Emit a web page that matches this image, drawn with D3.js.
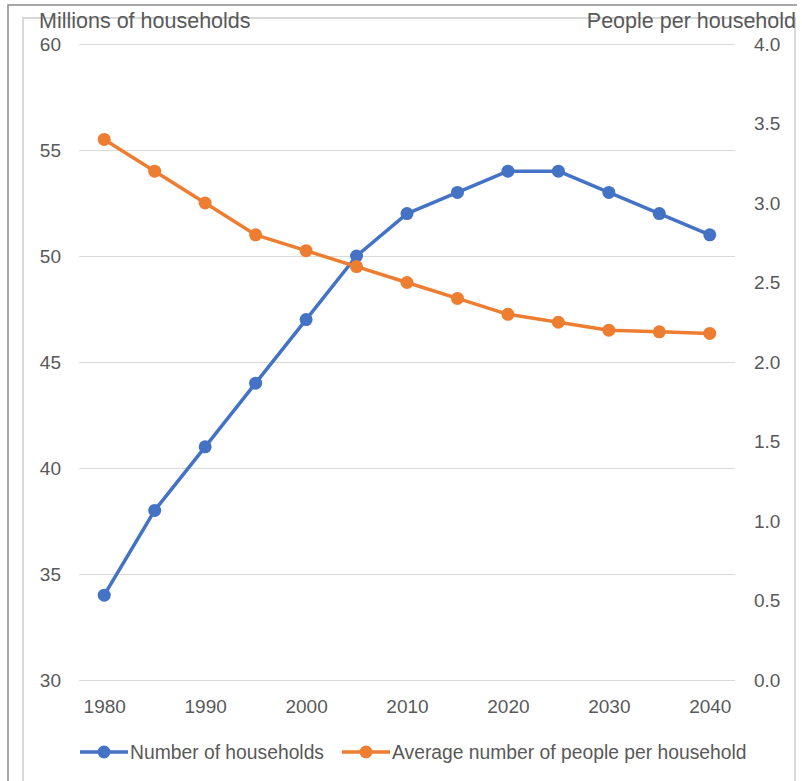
<!DOCTYPE html>
<html>
<head>
<meta charset="utf-8">
<script src="https://cdn.jsdelivr.net/npm/d3@7"></script>
<style>
  body { margin: 0; background: #fff; }
  text { font-family: "Liberation Sans", Arial, sans-serif; fill: #595959; }
</style>
</head>
<body>
<script>
// chart data
var years = [1980, 1985, 1990, 1995, 2000, 2005, 2010, 2015, 2020, 2025, 2030, 2035, 2040];
var households = [34, 38, 41, 44, 47, 50, 52, 53, 54, 54, 53, 52, 51];
var peoplePerHousehold = [3.4, 3.2, 3.0, 2.8, 2.7, 2.6, 2.5, 2.4, 2.3, 2.25, 2.2, 2.19, 2.18];
var leftTicks = [30, 35, 40, 45, 50, 55, 60];
var rightTicks = [0, 0.5, 1, 1.5, 2, 2.5, 3, 3.5, 4];
var xLabels = [1980, 1990, 2000, 2010, 2020, 2030, 2040];
var seriesNames = ["Number of households", "Average number of people per household"];

var W = 802, H = 781;
var plot = {left: 79, right: 735, top: 44, bottom: 680};
var blue = "#4472C4", orange = "#ED7D31";

var svg = d3.select("body").append("svg")
    .attr("width", W)
    .attr("height", H);

// frame
svg.append("path")
    .attr("d", "M8,781 V5 H797")
    .attr("fill", "none").attr("stroke", "#8c8c8c").attr("stroke-width", 1.5);
svg.append("path")
    .attr("d", "M23,781 V18 H795 V781")
    .attr("fill", "none").attr("stroke", "#d9d9d9").attr("stroke-width", 2);

// scales
var x = d3.scalePoint().domain(years).range([plot.left, plot.right]).padding(0.5);
var yL = d3.scaleLinear().domain([30, 60]).range([plot.bottom, plot.top]);
var yR = d3.scaleLinear().domain([0, 4]).range([plot.bottom, plot.top]);

function styleLabels(g) {
  g.select(".domain").remove();
  g.selectAll("text").style("font-size", "19px")
    .style("font-family", "'Liberation Sans', Arial, sans-serif").attr("fill", "#595959");
}

// gridlines
svg.append("g")
    .attr("transform", "translate(" + plot.left + ",0)")
    .call(d3.axisLeft(yL).tickValues(leftTicks).tickSize(-(plot.right - plot.left)).tickFormat(""))
    .call(function(g) {
      g.select(".domain").remove();
      g.selectAll("line").attr("stroke", "#d9d9d9").attr("stroke-width", 1);
    });

// left axis labels
svg.append("g")
    .attr("transform", "translate(61,0)")
    .call(d3.axisLeft(yL).tickValues(leftTicks).tickSize(0).tickPadding(0))
    .call(styleLabels);

// right axis labels
svg.append("g")
    .attr("transform", "translate(754,0)")
    .call(d3.axisRight(yR).tickValues(rightTicks).tickSize(0).tickPadding(0).tickFormat(d3.format(".1f")))
    .call(styleLabels);

// x axis labels
svg.append("g")
    .attr("transform", "translate(0,699)")
    .call(d3.axisBottom(x).tickValues(xLabels).tickSize(0).tickPadding(0))
    .call(styleLabels);

// axis titles
svg.append("text")
    .attr("x", 39).attr("y", 28)
    .style("font-size", "21.5px")
    .text("Millions of households");
svg.append("text")
    .attr("x", 796).attr("y", 28)
    .attr("text-anchor", "end")
    .style("font-size", "21.5px")
    .text("People per household");

// series
var series = [
  {name: seriesNames[0], values: households, y: yL, color: blue},
  {name: seriesNames[1], values: peoplePerHousehold, y: yR, color: orange}
];

series.forEach(function(s) {
  var line = d3.line()
      .x(function(d, i) { return x(years[i]); })
      .y(function(d) { return s.y(d); });
  svg.append("path")
      .datum(s.values)
      .attr("fill", "none")
      .attr("stroke", s.color)
      .attr("stroke-width", 3.5)
      .attr("stroke-linejoin", "round")
      .attr("d", line);
  svg.append("g").selectAll("circle")
      .data(s.values)
      .join("circle")
      .attr("cx", function(d, i) { return x(years[i]); })
      .attr("cy", function(d) { return s.y(d); })
      .attr("r", 6.5)
      .attr("fill", s.color);
});

// legend
var legendX = [80, 342];
series.forEach(function(s, i) {
  var lg = svg.append("g").attr("transform", "translate(" + legendX[i] + ",752)");
  lg.append("line").attr("x1", 0).attr("x2", 48).attr("y1", 0).attr("y2", 0)
    .attr("stroke", s.color).attr("stroke-width", 3.5);
  lg.append("circle").attr("cx", 24).attr("cy", 0).attr("r", 6.5).attr("fill", s.color);
  lg.append("text").attr("x", 50).attr("y", 0).attr("dy", "0.35em")
    .style("font-size", "19.3px")
    .text(s.name);
});
</script>
</body>
</html>
